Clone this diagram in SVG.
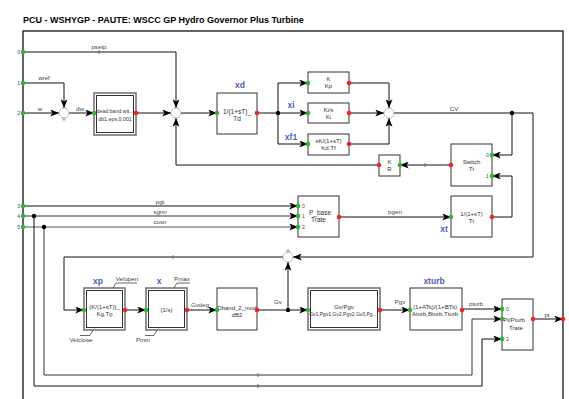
<svg xmlns="http://www.w3.org/2000/svg" width="569" height="399" viewBox="0 0 569 399">
<defs>
<marker id="ar" viewBox="0 0 10 8" refX="10" refY="4" markerUnits="userSpaceOnUse" markerWidth="10" markerHeight="7" orient="auto">
<path d="M0,0 L10,4 L0,8 L2.5,4 z" fill="#000"/>
</marker>
</defs>
<style>
text{font-family:"Liberation Sans",Arial,sans-serif;fill:#333}
.title{font-size:9px;font-weight:bold;fill:#000}
.bt{font-size:6px;text-anchor:middle}
.lbl{font-size:6.2px;text-anchor:middle;fill:#444}
.pn{font-size:5px;fill:#444}
.blue{font-size:8.5px;font-weight:bold;fill:#4a5fb8;text-anchor:middle}
.blk{fill:#fff;stroke:#333;stroke-width:1}
.dbl{fill:none;stroke:#777;stroke-width:1.6}
.c{fill:none;stroke:#111;stroke-width:1}
.ca{fill:none;stroke:#111;stroke-width:1;marker-end:url(#ar)}
.in{fill:#2fb52f}
.out{fill:#e8262b}
.dot{fill:#000}
.sum{fill:#fff;stroke:#999;stroke-width:1;stroke-dasharray:2,1}
.tk{stroke:#555;stroke-width:0.8}
</style>
<rect width="569" height="399" fill="#fff"/>
<text class="title" x="23" y="23">PCU - WSHYGP - PAUTE: WSCC GP Hydro Governor Plus Turbine</text>
<rect x="23" y="31" width="540" height="400" fill="none" stroke="#111" stroke-width="1.3"/>

<g id="connectors">
<path class="ca" d="M23,52 H176 V108"/>
<path class="ca" d="M23,83 H64 V108"/>
<path class="ca" d="M23,113 H59"/>
<path class="ca" d="M69,113 H94"/>
<path class="ca" d="M136,113 H171"/>
<path class="ca" d="M181,113 H217"/>
<path class="ca" d="M257,113 H308"/>
<path class="ca" d="M278,113 V83 H308"/>
<path class="ca" d="M278,113 V144 H308"/>
<path class="ca" d="M349,83 H389 V108"/>
<path class="ca" d="M349,113 H384"/>
<path class="ca" d="M349,144 H389 V118"/>
<path class="ca" d="M394,113 H533 V257 H293"/>
<path class="ca" d="M512,113 V155 H492"/>
<path class="ca" d="M492,217 H512 V176 H492"/>
<path class="ca" d="M451,165 H400"/>
<path class="ca" d="M379,165 H176 V118"/>
<path class="ca" d="M23,206 H298"/>
<path class="ca" d="M23,216 H298" style="stroke:#333"/>
<path class="ca" d="M23,227 H298" style="stroke:#555"/>
<path class="ca" d="M339,217 H451"/>
<path class="ca" d="M283,257 H64 V310 H84"/>
<path class="ca" d="M125,310 H146"/>
<path class="ca" d="M187,310 H217"/>
<path class="ca" d="M257,310 H308"/>
<path class="ca" d="M288,310 V262"/>
<path class="ca" d="M380,310 H410"/>
<path class="ca" d="M462,309 H502"/>
<path class="ca" d="M44,227 V375 H472 V319 H502" style="stroke:#333"/>
<path class="ca" d="M34,216 V386 H482 V339 H502"/>
<path class="ca" d="M533,319 H563"/>
<line class="tk" x1="173" y1="255" x2="173" y2="259"/>
<line class="tk" x1="425" y1="163" x2="425" y2="167"/>
<line class="tk" x1="258" y1="373" x2="258" y2="377"/>
<line class="tk" x1="258" y1="384" x2="258" y2="388"/>
<line class="tk" x1="99" y1="50" x2="99" y2="54"/>
<circle class="dot" cx="278" cy="113" r="2.2"/>
<circle class="dot" cx="512" cy="113" r="2.2"/>
<circle class="dot" cx="288" cy="310" r="2.2"/>
<circle class="dot" cx="34" cy="216" r="2.2"/>
<circle class="dot" cx="44" cy="227" r="2.2"/>
<text class="lbl" x="99" y="49">psetp</text>
<text class="lbl" x="44" y="80">wref</text>
<text class="lbl" x="40" y="111">w</text>
<text class="lbl" x="80" y="111">dw</text>
<text class="lbl" x="454" y="111">CV</text>
<text class="lbl" x="160" y="204">pgt</text>
<text class="lbl" x="160" y="214">sgnn</text>
<text class="lbl" x="160" y="224">cosn</text>
<text class="lbl" x="395" y="214">pgen</text>
<text class="lbl" x="200" y="307">Gvdeg</text>
<text class="lbl" x="278" y="304">Gv</text>
<text class="lbl" x="400" y="304">Pgv</text>
<text class="lbl" x="476" y="306">pturb</text>
<text class="lbl" x="547" y="317">pt</text>
</g>

<g id="inputs">
<circle class="in" cx="23" cy="52" r="2.3"/><text class="pn" x="20" y="54" text-anchor="end">0</text>
<circle class="in" cx="23" cy="83" r="2.3"/><text class="pn" x="20" y="85" text-anchor="end">1</text>
<circle class="in" cx="23" cy="113" r="2.3"/><text class="pn" x="20" y="115" text-anchor="end">2</text>
<circle class="in" cx="23" cy="206" r="2.3"/><text class="pn" x="20" y="208" text-anchor="end">3</text>
<circle class="in" cx="23" cy="216" r="2.3"/><text class="pn" x="20" y="218" text-anchor="end">4</text>
<circle class="in" cx="23" cy="227" r="2.3"/><text class="pn" x="20" y="229" text-anchor="end">5</text>
<circle class="out" cx="563" cy="319" r="2.3"/>
</g>

<g id="sum1"><circle class="sum" cx="64" cy="113" r="5"/><circle cx="64" cy="119" r="1.8" fill="#bbb"/></g>
<g id="sum2"><circle class="sum" cx="176" cy="113" r="5"/><text class="lbl" x="171" y="128">-</text></g>
<g id="sum3"><circle class="sum" cx="389" cy="113" r="5"/></g>
<g id="sum4"><circle class="sum" cx="288" cy="257" r="5"/><circle cx="288" cy="251" r="1.8" fill="#bbb"/><text class="lbl" x="283" y="271">-</text></g>

<g id="deadband">
<rect class="dbl" x="94" y="93" width="42" height="42"/>
<rect class="blk" x="96.5" y="95.5" width="37" height="37"/>
<text class="bt" x="115" y="113" style="font-size:5.3px">dead band wit...</text>
<text class="bt" x="115" y="121" style="font-size:5.3px">db1,eps,0.001</text>
<circle class="in" cx="94" cy="113" r="2.3"/><circle class="out" cx="136" cy="113" r="2.3"/>
</g>

<g id="xd">
<rect class="blk" x="217" y="93" width="40" height="41"/>
<text class="blue" x="240" y="88">xd</text>
<text class="bt" x="237" y="114" style="font-size:6.5px">1/(1+sT)_</text>
<text class="bt" x="237" y="121" style="font-size:6.5px">Td</text>
<circle class="in" cx="217" cy="113" r="2.3"/><circle class="out" cx="257" cy="113" r="2.3"/>
</g>

<g id="kp">
<rect class="blk" x="308" y="72" width="41" height="21"/>
<text class="bt" x="328.5" y="81">K</text>
<text class="bt" x="328.5" y="88">Kp</text>
<circle class="in" cx="308" cy="83" r="2.3"/><circle class="out" cx="349" cy="83" r="2.3"/>
</g>

<g id="xi">
<rect class="blk" x="308" y="103" width="41" height="20"/>
<text class="blue" x="291" y="108">xi</text>
<text class="bt" x="328.5" y="112">Ki/s</text>
<text class="bt" x="328.5" y="119">Ki</text>
<circle class="in" cx="308" cy="113" r="2.3"/><circle class="out" cx="349" cy="113" r="2.3"/>
</g>

<g id="xf1">
<rect class="blk" x="308" y="134" width="41" height="21"/>
<text class="blue" x="291" y="140">xf1</text>
<text class="bt" x="328.5" y="143">sK/(1+sT)</text>
<text class="bt" x="328.5" y="150">Kd,Tf</text>
<circle class="in" cx="308" cy="144" r="2.3"/><circle class="out" cx="349" cy="144" r="2.3"/>
</g>

<g id="kr">
<rect class="blk" x="379" y="155" width="21" height="21"/>
<text class="bt" x="389.5" y="164">K</text>
<text class="bt" x="389.5" y="171">R</text>
<circle class="in" cx="400" cy="165" r="2.3"/><circle class="out" cx="379" cy="165" r="2.3"/>
</g>

<g id="switch">
<rect class="blk" x="451" y="144" width="41" height="42"/>
<text class="bt" x="471.5" y="164">Switch</text>
<text class="bt" x="471.5" y="171">Tt</text>
<text class="pn" x="486" y="157">0</text>
<text class="pn" x="486" y="178">1</text>
<circle class="in" cx="492" cy="155" r="2.3"/><circle class="in" cx="492" cy="176" r="2.3"/><circle class="out" cx="451" cy="165" r="2.3"/>
</g>

<g id="xt">
<rect class="blk" x="451" y="196" width="41" height="41"/>
<text class="blue" x="444" y="232">xt</text>
<text class="bt" x="471.5" y="216">1/(1+sT)</text>
<text class="bt" x="471.5" y="223">Tt</text>
<circle class="in" cx="451" cy="217" r="2.3"/><circle class="out" cx="492" cy="217" r="2.3"/>
</g>

<g id="pbase">
<rect class="blk" x="298" y="196" width="41" height="41"/>
<text class="bt" x="320" y="215" style="font-size:6.5px">P_base</text>
<text class="bt" x="318.5" y="222" style="font-size:6.5px">Trate</text>
<text class="pn" x="302" y="208">0</text>
<text class="pn" x="302" y="218">1</text>
<text class="pn" x="302" y="229">2</text>
<circle class="in" cx="298" cy="206" r="2.3"/><circle class="in" cx="298" cy="216" r="2.3"/><circle class="in" cx="298" cy="227" r="2.3"/><circle class="out" cx="339" cy="217" r="2.3"/>
</g>

<g id="xp">
<rect class="dbl" x="84" y="288" width="41" height="42"/>
<rect class="blk" x="86.5" y="290.5" width="36" height="37"/>
<text class="blue" x="98" y="284">xp</text>
<text class="bt" x="104.5" y="309">{K/(1+sT)}_</text>
<text class="bt" x="104.5" y="316">Kg,Tp</text>
<path d="M113,288 L116,283 H137" fill="none" stroke="#444" stroke-width="0.8"/>
<text class="lbl" x="127" y="281">Velopen</text>
<path d="M80,335.5 H90 L93,330" fill="none" stroke="#444" stroke-width="0.8"/>
<text class="lbl" x="81" y="342">Velclose</text>
<circle class="in" cx="84" cy="310" r="2.3"/><circle class="out" cx="125" cy="310" r="2.3"/>
</g>

<g id="x">
<rect class="dbl" x="146" y="288" width="41" height="42"/>
<rect class="blk" x="148.5" y="290.5" width="36" height="37"/>
<text class="blue" x="159" y="284">x</text>
<text class="bt" x="166.5" y="312">{1/s}</text>
<path d="M174,288 L177,283 H190" fill="none" stroke="#444" stroke-width="0.8"/>
<text class="lbl" x="182" y="281">Pmax</text>
<path d="M145,335.5 H154 L157,330" fill="none" stroke="#444" stroke-width="0.8"/>
<text class="lbl" x="143" y="342">Pmin</text>
<circle class="in" cx="146" cy="310" r="2.3"/><circle class="out" cx="187" cy="310" r="2.3"/>
</g>

<g id="dband">
<rect class="blk" x="217" y="288" width="40" height="42"/>
<text class="bt" x="237" y="310">Dband_2_mod</text>
<text class="bt" x="237" y="317">dB2</text>
<circle class="in" cx="217" cy="310" r="2.3"/><circle class="out" cx="257" cy="310" r="2.3"/>
</g>

<g id="gvpgv">
<rect class="dbl" x="308" y="288" width="72" height="42"/>
<rect class="blk" x="310.5" y="290.5" width="67" height="37"/>
<text class="bt" x="344" y="309">Gv/Pgv</text>
<text class="bt" x="343" y="316" style="font-size:5px">Gv1,Pgv1,Gv2,Pgv2,Gv3,Pg...</text>
<circle class="in" cx="308" cy="310" r="2.3"/><circle class="out" cx="380" cy="310" r="2.3"/>
</g>

<g id="xturb">
<rect class="blk" x="410" y="288" width="52" height="42"/>
<text class="blue" x="434" y="284">xturb</text>
<text class="bt" x="435" y="309" style="font-size:6.2px">(1+ATs)/(1+BTs)</text>
<text class="bt" x="435" y="316">Aturb,Bturb,Tturb</text>
<circle class="in" cx="410" cy="310" r="2.3"/><circle class="out" cx="462" cy="310" r="2.3"/>
</g>

<g id="ptpturb">
<rect class="blk" x="502" y="299" width="31" height="51"/>
<text class="bt" x="514" y="322">Pt/Pturb</text>
<text class="bt" x="516" y="330">Trate</text>
<text class="pn" x="506" y="311">0</text>
<text class="pn" x="506" y="341">2</text>
<circle class="in" cx="502" cy="309" r="2.3"/><circle class="in" cx="502" cy="319" r="2.3"/><circle class="in" cx="502" cy="339" r="2.3"/><circle class="out" cx="533" cy="319" r="2.3"/>
</g>
</svg>
